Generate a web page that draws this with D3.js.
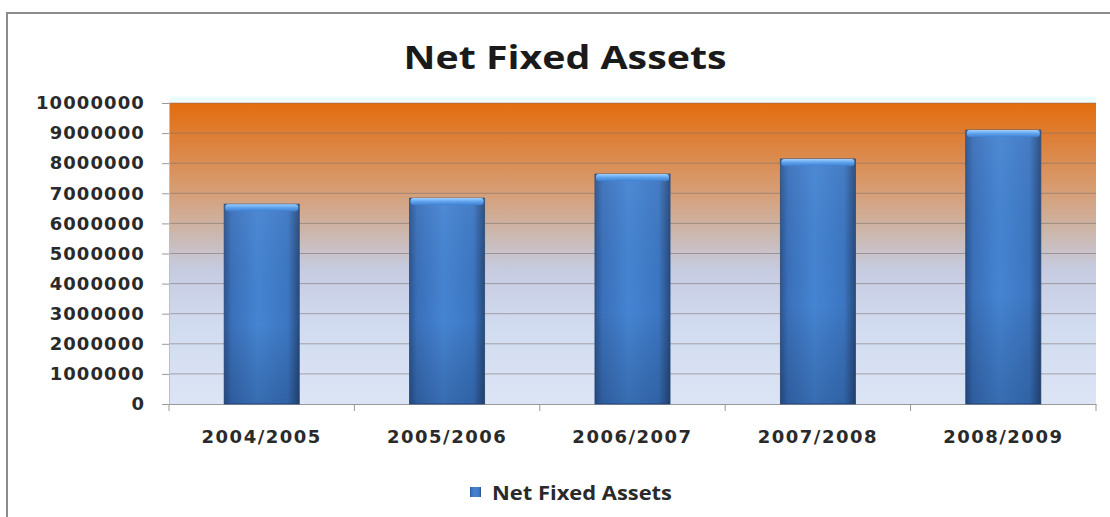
<!DOCTYPE html>
<html><head><meta charset="utf-8">
<script src="https://cdn.jsdelivr.net/npm/d3@7"></script>
<style>html,body{margin:0;padding:0;background:#fff;overflow:hidden}</style>
</head><body>
<script>
const categories = ["2004/2005","2005/2006","2006/2007","2007/2008","2008/2009"];
const values = [6640000, 6840000, 7640000, 8140000, 9100000];
const yTicks = [0,1000000,2000000,3000000,4000000,5000000,6000000,7000000,8000000,9000000,10000000];
const title = "Net Fixed Assets";
const seriesName = "Net Fixed Assets";

const W = 1110, H = 517;
const m = {left:169, right:1096, top:103, bottom:404};
const svg = d3.select("body").append("svg").attr("width",W).attr("height",H);
const defs = svg.append("defs");

const bg = defs.append("linearGradient").attr("id","bg").attr("x1",0).attr("y1",0).attr("x2",0).attr("y2",1);
[[0,"#e36d0e"],[0.12,"#dd8038"],[0.3,"#d69f78"],[0.42,"#ccb5a8"],[0.55,"#c6cbe0"],[0.75,"#d2dcf0"],[1,"#dbe5f5"]]
  .forEach(([o,c])=>bg.append("stop").attr("offset",o).attr("stop-color",c));

const barH = defs.append("linearGradient").attr("id","barH").attr("x1",0).attr("y1",0).attr("x2",1).attr("y2",0);
[[0,"#2c5590"],[0.1,"#3a70ba"],[0.45,"#4584d2"],[0.85,"#3c76c2"],[1,"#284a7c"]]
  .forEach(([o,c])=>barH.append("stop").attr("offset",o).attr("stop-color",c));
const barV = defs.append("linearGradient").attr("id","barV").attr("x1",0).attr("y1",0).attr("x2",0).attr("y2",1);
[[0,"#ffffff",0.05],[0.6,"#000000",0.0],[1,"#001030",0.2]]
  .forEach(([o,c,a])=>barV.append("stop").attr("offset",o).attr("stop-color",c).attr("stop-opacity",a));
const cap = defs.append("linearGradient").attr("id","cap").attr("x1",0).attr("y1",0).attr("x2",0).attr("y2",1);
[[0,"#9fd0ff"],[0.5,"#5ea2ec"],[1,"#3f7fd0"]]
  .forEach(([o,c])=>cap.append("stop").attr("offset",o).attr("stop-color",c));

// outer frame
svg.append("rect").attr("x",7).attr("y",13).attr("width",W+20).attr("height",H+20)
  .attr("fill","#fff").attr("stroke","#8c8c8c").attr("stroke-width",2);

const x = d3.scaleBand().domain(categories).range([m.left,m.right]).paddingInner(0.595).paddingOuter(0.2975);
const y = d3.scaleLinear().domain([0,10000000]).range([m.bottom,m.top]);

// plot background
svg.append("rect").attr("x",m.left).attr("y",m.top).attr("width",m.right-m.left).attr("height",m.bottom-m.top)
  .attr("fill","url(#bg)");
svg.append("line").attr("x1",m.left).attr("x2",m.right).attr("y1",m.top-4).attr("y2",m.top-4)
  .attr("stroke","#eafcff").attr("stroke-width",5);

// gridlines
svg.append("g").selectAll("line").data(yTicks.filter(d=>d>0)).join("line")
  .attr("x1",m.left).attr("x2",m.right).attr("y1",d=>y(d)).attr("y2",d=>y(d))
  .attr("stroke","#7a6e6a").attr("stroke-opacity",0.55).attr("stroke-width",1);

// y axis
const yAxis = svg.append("g").attr("transform",`translate(${m.left},0)`)
  .call(d3.axisLeft(y).tickValues(yTicks).tickFormat(d3.format("d")).tickSize(7).tickPadding(17));
yAxis.select(".domain").attr("stroke","#b8c0cc");
yAxis.selectAll(".tick line").attr("stroke","#999");
yAxis.selectAll("text").attr("font-family","DejaVu Sans").attr("font-weight","bold").attr("font-size",18)
  .attr("fill","#2a2a2a").attr("letter-spacing",1.1);

// x axis
const xAxis = svg.append("g").attr("transform",`translate(0,${m.bottom})`)
  .call(d3.axisBottom(x).tickSize(0).tickPadding(26));
xAxis.select(".domain").attr("stroke","#999");
xAxis.selectAll("text").attr("font-family","DejaVu Sans").attr("font-weight","bold").attr("font-size",18)
  .attr("fill","#2a2a2a").attr("letter-spacing",1.5);
const bounds = d3.range(categories.length+1).map(i=>m.left + i*(m.right-m.left)/categories.length);
svg.append("g").selectAll("line").data(bounds).join("line")
  .attr("x1",d=>d).attr("x2",d=>d).attr("y1",m.bottom).attr("y2",m.bottom+7)
  .attr("stroke","#999");

// bars
const bars = svg.append("g").selectAll("g").data(categories.map((c,i)=>({c,v:values[i]}))).join("g");
bars.append("rect").attr("x",d=>x(d.c)).attr("y",d=>y(d.v)).attr("width",x.bandwidth())
  .attr("height",d=>y(0)-y(d.v)).attr("fill","url(#barH)").attr("stroke","#2a4a78").attr("stroke-width",0.8);
bars.append("rect").attr("x",d=>x(d.c)).attr("y",d=>y(d.v)).attr("width",x.bandwidth())
  .attr("height",d=>y(0)-y(d.v)).attr("fill","url(#barV)");
bars.append("rect").attr("x",d=>x(d.c)+1).attr("y",d=>y(d.v)).attr("width",x.bandwidth()-2)
  .attr("height",7).attr("rx",3).attr("fill","url(#cap)");

// title
svg.append("text").attr("x",565).attr("y",69).attr("text-anchor","middle")
  .attr("font-family","Open Sans").attr("font-weight","bold").attr("font-size",32)
  .attr("fill","#1a1a1a").attr("textLength",323).attr("lengthAdjust","spacingAndGlyphs").text(title);

// legend
svg.append("rect").attr("x",470).attr("y",487).attr("width",11).attr("height",10).attr("fill","url(#barH)");
svg.append("text").attr("x",492).attr("y",500).attr("font-family","Open Sans").attr("font-weight","bold")
  .attr("font-size",19).attr("fill","#2a2a2a").attr("textLength",180).attr("lengthAdjust","spacingAndGlyphs").text(seriesName);
</script>
</body></html>
